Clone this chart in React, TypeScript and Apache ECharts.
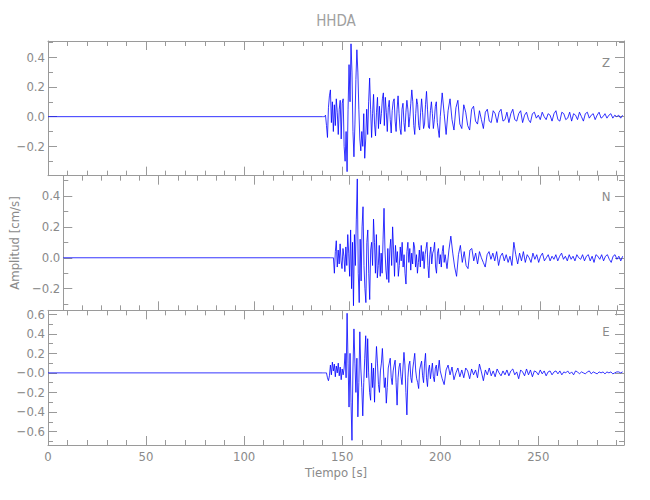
import React, { useEffect, useRef } from "react";
import * as echarts from "echarts";

// ---------- data ----------
const chartTitle = "HHDA";
const componentNames = ["Z", "N", "E"];
const xAxisTitle = "Tiempo [s]";
const yAxisTitle = "Amplitud [cm/s]";

const xMaxSeconds = 293.7;
const xTicks = [0, 50, 100, 150, 200, 250];
const xMinorTicks = [10, 20, 30, 40, 60, 70, 80, 90, 110, 120, 130, 140, 160, 170, 180, 190, 210, 220, 230, 240, 260, 270, 280, 290];

const quietStart = 0; // trace is flat (~0) until strongStart
const strongStart = 140; // s, sampled every 0.5 s
const strongDt = 0.5;
const codaDt = 1; // s, coda sampled every 1 s after the strong part

// Z component
const zRange = [-0.397, 0.509];
const zTicks = [-0.2, 0, 0.2, 0.4];
const zMinorTicks = [-0.3, -0.1, 0.1, 0.3, 0.5];
const zTickLabels = ["\u22120.2", "0.0", "0.2", "0.4"];
const zStrong = [
  0, 0, 0, 0.01, -0.06, -0.14, 0.06, 0.14, 0.18, -0.04,
  0.10, -0.10, 0.08, -0.06, 0.12, 0.03, -0.12, 0.05, 0.11, -0.15,
  0.09, 0.12, -0.20, -0.30, -0.10, -0.37, 0.05, 0.35, 0.10, 0.49,
  0.30, -0.10, -0.27, -0.05, 0.25, 0.45, 0.30, 0.05, -0.15, -0.23,
  -0.10, -0.20, 0.02, -0.28, -0.15, 0.05, -0.12, 0.10, 0.26, 0.05,
  -0.14, 0.02, 0.15, -0.05, -0.13, 0.03, 0.13, -0.08, 0.07, -0.05,
  0.02, 0.12, 0.16, -0.06, 0.13, 0.03, -0.10, 0.06, 0.11, -0.02,
  -0.11, 0.04, 0.10, 0.12, -0.03, -0.10, 0.05, 0.14, 0.02, -0.08,
  -0.12, 0.05, 0.09, -0.04, -0.10, 0.03, 0.11, 0.05, -0.07, 0.00,
  0.09, 0.18, 0.10, -0.06, -0.12, 0.02, 0.12, 0.08, -0.06, -0.09,
  0.03, 0.12, 0.03, -0.08, -0.05, 0.08, 0.17, 0.05, -0.07, -0.08,
  0.04, 0.10, 0.02, -0.08, -0.02, 0.07, 0.10, -0.04, -0.09, -0.14,
];
const zCoda = [
  0.00, 0.16, 0.02, -0.12, 0.04, 0.12, -0.02, -0.09, 0.06, 0.11,
  -0.05, -0.08, 0.08, 0.03, -0.06, -0.09, 0.05, 0.07, -0.03, -0.05,
  0.04, -0.02, -0.08, 0.03, 0.05, -0.03, -0.04, 0.04, 0.02, -0.04,
  0.03, 0.05, -0.03, -0.02, 0.03, -0.04, 0.02, 0.05, -0.02, -0.03,
  0.02, 0.04, -0.04, 0.01, 0.03, -0.02, -0.04, 0.02, 0.03, -0.01,
  0.01, -0.02, 0.03, 0.00, -0.02, 0.02, 0.01, -0.03, 0.02, 0.04,
  -0.02, -0.03, 0.03, 0.02, -0.02, -0.01, 0.03, -0.03, 0.02, 0.01,
  -0.02, 0.03, 0.00, -0.03, 0.02, 0.03, -0.01, 0.01, 0.02, -0.02,
  0.01, 0.03, -0.01, 0.00, 0.02, -0.01, 0.01, 0.02, -0.01, 0.01,
  0.00, 0.01, -0.01, 0.01,
];

// N component
const nRange = [-0.34, 0.531];
const nTicks = [-0.2, 0, 0.2, 0.4];
const nMinorTicks = [-0.3, -0.1, 0.1, 0.3, 0.5];
const nTickLabels = ["\u22120.2", "0.0", "0.2", "0.4"];
const nStrong = [
  0, 0, 0, 0, -0.10, 0.04, 0.11, -0.06, 0.05, -0.04,
  0.09, -0.02, -0.07, 0.06, 0.01, -0.09, 0.07, -0.05, 0.15, 0.03,
  -0.12, 0.18, -0.20, 0.10, -0.31, 0.15, -0.05, 0.25, 0.51, -0.10,
  -0.29, 0.12, -0.15, 0.20, 0.33, -0.05, -0.20, -0.29, 0.10, 0.18,
  -0.10, -0.27, 0.05, 0.10, -0.05, 0.25, 0.10, -0.10, 0.15, -0.13,
  -0.05, 0.08, -0.12, 0.03, -0.10, 0.12, 0.32, 0.05, -0.08, -0.14,
  0.06, -0.16, 0.05, 0.12, -0.05, 0.20, 0.05, -0.12, 0.08, -0.03,
  0.04, -0.12, -0.05, 0.07, -0.02, 0.10, -0.06, 0.02, -0.10, -0.17,
  0.04, 0.10, -0.03, 0.06, -0.08, 0.03, -0.04, 0.10, 0.07, -0.06,
  0.02, -0.10, -0.03, 0.05, -0.06, 0.08, -0.02, 0.04, -0.07, 0.02,
  0.06, 0.10, -0.05, -0.13, 0.02, 0.07, -0.04, 0.03, 0.05, 0.10,
  -0.06, -0.10, 0.03, 0.06, -0.04, 0.02, -0.06, 0.04, 0.08, -0.03,
];
const nCoda = [
  0.02, -0.07, 0.05, 0.14, 0.03, -0.06, -0.12, 0.02, 0.08, -0.03,
  0.04, -0.05, -0.07, 0.05, 0.06, -0.02, 0.03, -0.04, 0.04, 0.00,
  -0.03, -0.06, 0.02, 0.04, -0.01, 0.03, -0.02, 0.04, -0.05, 0.01,
  0.03, -0.02, 0.02, -0.03, 0.01, -0.05, 0.10, 0.02, -0.04, 0.03,
  -0.02, 0.04, -0.03, 0.02, 0.00, -0.03, 0.03, -0.01, 0.02, -0.03,
  0.01, 0.03, -0.02, 0.00, 0.02, -0.02, 0.01, -0.01, 0.02, -0.02,
  0.01, 0.03, -0.01, 0.01, -0.02, 0.02, -0.01, 0.01, -0.02, 0.02,
  0.00, -0.01, 0.02, -0.02, 0.01, 0.02, -0.02, 0.01, -0.03, 0.02,
  0.01, -0.01, 0.02, -0.02, 0.01, 0.02, -0.01, -0.03, 0.01, 0.02,
  -0.01, 0.01, -0.02, 0.01,
];

// E component
const eRange = [-0.738, 0.64];
const eTicks = [-0.6, -0.4, -0.2, 0, 0.2, 0.4, 0.6];
const eMinorTicks = [-0.7, -0.5, -0.3, -0.1, 0.1, 0.3, 0.5];
const eTickLabels = ["\u22120.6", "\u22120.4", "\u22120.2", "\u22120.0", "0.2", "0.4", "0.6"];
const eStrong = [
  0, 0, 0, 0, 0.00, -0.05, -0.08, -0.03, 0.08, -0.02,
  0.11, 0.02, 0.09, -0.04, 0.07, 0.00, 0.10, -0.03, 0.06, -0.07,
  0.04, -0.02, 0.05, 0.20, -0.05, 0.61, 0.10, -0.35, 0.20, -0.30,
  -0.69, 0.05, 0.45, 0.10, -0.20, 0.15, -0.45, -0.10, 0.42, 0.05,
  -0.15, -0.44, -0.10, 0.15, 0.38, -0.05, 0.35, 0.00, -0.20, -0.28,
  0.10, -0.15, 0.05, -0.30, 0.05, 0.27, 0.10, -0.12, -0.20, 0.02,
  0.10, 0.25, 0.05, -0.15, -0.05, -0.31, -0.15, 0.05, 0.10, 0.15,
  -0.05, -0.12, 0.02, 0.08, 0.13, -0.10, -0.33, -0.05, 0.06, 0.10,
  -0.04, -0.12, 0.05, 0.21, 0.08, -0.20, -0.43, -0.05, 0.08, 0.12,
  -0.05, -0.10, 0.04, 0.12, 0.20, 0.02, -0.06, -0.10, -0.16, 0.03,
  0.08, 0.12, -0.03, -0.10, 0.10, 0.20, -0.05, -0.14, 0.03, 0.08,
  -0.06, 0.02, 0.10, -0.04, -0.09, 0.05, 0.08, -0.03, 0.04, 0.13,
];
const eCoda = [
  0.02, -0.06, -0.12, 0.03, 0.08, -0.02, 0.06, -0.07, 0.00, 0.05,
  -0.04, 0.03, -0.05, 0.05, 0.02, -0.06, 0.04, -0.02, 0.03, -0.05,
  0.09, 0.01, -0.08, 0.03, -0.02, 0.05, -0.03, 0.02, -0.04, 0.04,
  0.00, -0.03, 0.02, -0.02, 0.03, -0.03, 0.02, 0.04, -0.02, 0.01,
  -0.06, 0.03, 0.01, -0.03, 0.04, -0.02, 0.03, -0.04, 0.02, 0.01,
  -0.02, 0.03, -0.01, 0.02, -0.03, 0.01, 0.02, -0.02, 0.01, 0.02,
  -0.01, 0.02, -0.02, 0.01, 0.00, 0.02, -0.01, 0.01, -0.02, 0.02,
  0.01, -0.01, 0.01, 0.00, -0.01, 0.01, 0.02, -0.01, 0.01, 0.00,
  -0.01, 0.01, 0.00, 0.01, -0.01, 0.01, 0.00, 0.01, -0.01, 0.00,
  0.01, 0.01, 0.00, 0.01,
];

// ---------- helpers ----------
function buildTrace(strong: number[], coda: number[]) {
  const pts: number[][] = [[quietStart, 0]];
  strong.forEach((v, i) => pts.push([strongStart + i * strongDt, v]));
  const codaStart = strongStart + strong.length * strongDt;
  coda.forEach((v, i) => pts.push([codaStart + i * codaDt, v]));
  return pts;
}

const AXIS_COLOR = "#9a9a9a";
const TEXT_COLOR = "#8a8a8a";
const FONT = "'Liberation Sans Narrow', 'DejaVu Sans Condensed', 'Roboto', sans-serif";

const GRID_LEFT = 48;
const GRID_RIGHT = 26;
const GRID_TOP = 41;
const PANEL_H = 134.67;

export default function App() {
  const ref = useRef<HTMLDivElement>(null);

  useEffect(() => {
    if (!ref.current) return;
    const chart = echarts.init(ref.current, undefined, { renderer: "svg" });

    const panels = [
      { name: componentNames[0], range: zRange, ticks: zTicks, minor: zMinorTicks, labels: zTickLabels, data: buildTrace(zStrong, zCoda) },
      { name: componentNames[1], range: nRange, ticks: nTicks, minor: nMinorTicks, labels: nTickLabels, data: buildTrace(nStrong, nCoda) },
      { name: componentNames[2], range: eRange, ticks: eTicks, minor: eMinorTicks, labels: eTickLabels, data: buildTrace(eStrong, eCoda) },
    ];

    const grids: any[] = [];
    const xAxes: any[] = [];
    const yAxes: any[] = [];
    const series: any[] = [];
    const graphics: any[] = [];

    const baseAxis = (gridIndex: number, min: number, max: number, position: string) => ({
      type: "value",
      gridIndex,
      min,
      max,
      position,
      scale: false,
      splitLine: { show: false },
      axisLine: { show: false, onZero: false },
      axisTick: { show: false },
      axisLabel: { show: false },
      minorTick: { show: false },
      silent: true,
    });

    const majorTick = (values: number[]) => ({
      show: true,
      inside: true,
      length: 9,
      customValues: values,
      lineStyle: { color: AXIS_COLOR, width: 1 },
    });
    const minorTick = (values: number[]) => ({
      show: true,
      inside: true,
      length: 5,
      customValues: values,
      lineStyle: { color: AXIS_COLOR, width: 1 },
    });
    const line = { show: true, onZero: false, lineStyle: { color: AXIS_COLOR, width: 1 } };

    panels.forEach((p, g) => {
      const top = GRID_TOP + g * PANEL_H;
      grids.push({ left: GRID_LEFT, right: GRID_RIGHT, top, height: PANEL_H, containLabel: false });
      const isBottom = g === panels.length - 1;

      // x axes: bottom major, bottom minor, top major, top minor
      const xMain: any = { ...baseAxis(g, 0, xMaxSeconds, "bottom"), axisLine: line, axisTick: majorTick(xTicks) };
      if (isBottom) {
        xMain.axisLabel = {
          show: true,
          customValues: xTicks,
          margin: 5,
          color: TEXT_COLOR,
          fontFamily: FONT,
          fontSize: 13,
          formatter: (v: number) => String(v),
        };
        xMain.name = xAxisTitle;
        xMain.nameLocation = "middle";
        xMain.nameGap = 21;
        xMain.nameTextStyle = { color: TEXT_COLOR, fontFamily: FONT, fontSize: 13 };
      }
      xAxes.push(xMain);
      xAxes.push({ ...baseAxis(g, 0, xMaxSeconds, "bottom"), axisTick: minorTick(xMinorTicks) });
      xAxes.push({ ...baseAxis(g, 0, xMaxSeconds, "top"), axisLine: line, axisTick: majorTick(xTicks) });
      xAxes.push({ ...baseAxis(g, 0, xMaxSeconds, "top"), axisTick: minorTick(xMinorTicks) });

      // y axes: left major, left minor, right major, right minor
      const [ymin, ymax] = p.range;
      const yMain: any = {
        ...baseAxis(g, ymin, ymax, "left"),
        axisLine: line,
        axisTick: majorTick(p.ticks),
        axisLabel: {
          show: true,
          customValues: p.ticks,
          margin: 3,
          color: TEXT_COLOR,
          fontFamily: FONT,
          fontSize: 13,
          formatter: (v: number) => {
            const idx = p.ticks.findIndex((t) => Math.abs(t - v) < 1e-9);
            return idx >= 0 ? p.labels[idx] : String(v);
          },
        },
      };
      if (g === 1) {
        yMain.name = yAxisTitle;
        yMain.nameLocation = "middle";
        yMain.nameGap = 31;
        yMain.nameRotate = 90;
        yMain.nameTextStyle = { color: TEXT_COLOR, fontFamily: FONT, fontSize: 13 };
      }
      yAxes.push(yMain);
      yAxes.push({ ...baseAxis(g, ymin, ymax, "left"), axisTick: minorTick(p.minor) });
      yAxes.push({ ...baseAxis(g, ymin, ymax, "right"), axisLine: line, axisTick: majorTick(p.ticks) });
      yAxes.push({ ...baseAxis(g, ymin, ymax, "right"), axisTick: minorTick(p.minor) });

      series.push({
        type: "line",
        name: p.name,
        xAxisIndex: g * 4,
        yAxisIndex: g * 4,
        data: p.data,
        showSymbol: false,
        symbol: "none",
        clip: true,
        silent: true,
        lineStyle: { color: "#0000ff", width: 0.8 },
      });

      graphics.push({
        type: "text",
        x: 606,
        y: top + 21,
        silent: true,
        style: {
          text: p.name,
          fill: TEXT_COLOR,
          font: `13px ${FONT}`,
          align: "center",
          verticalAlign: "middle",
        },
      });
    });

    graphics.push({
      type: "text",
      x: 336,
      y: 21,
      silent: true,
      style: {
        text: chartTitle,
        fill: "#a0a0a0",
        font: `15px ${FONT}`,
        align: "center",
        verticalAlign: "middle",
      },
    });

    chart.setOption({
      animation: false,
      backgroundColor: "#ffffff",
      grid: grids,
      xAxis: xAxes,
      yAxis: yAxes,
      series,
      graphic: graphics,
    });

    return () => chart.dispose();
  }, []);

  return (
    <div
      ref={ref}
      style={{ position: "fixed", left: 0, top: 0, width: 650, height: 500, background: "#fff" }}
    />
  );
}
